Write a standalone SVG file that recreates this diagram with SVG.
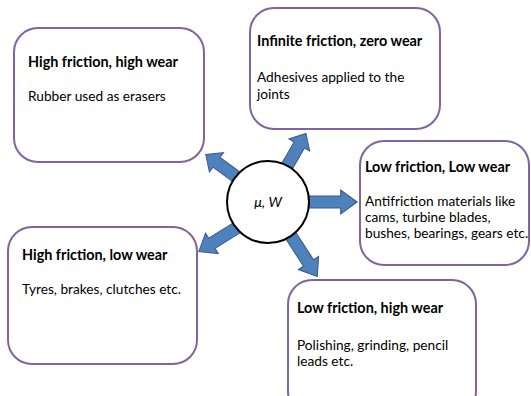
<svg xmlns="http://www.w3.org/2000/svg" width="531" height="396" viewBox="0 0 531 396">
<style>
.box{fill:#fff;stroke:#8064A2;stroke-width:2}
.t{font-family:Lato,"Liberation Sans",sans-serif;font-size:14.4px;font-weight:bold;fill:#000}
.b{font-family:Lato,"Liberation Sans",sans-serif;font-size:13.7px;fill:#000}
.arr{fill:#4F81BD;stroke:#385D8A;stroke-width:1}
</style>
<defs>
<polygon id="ar" points="0,-6 28,-6 28,-12 42,0 28,12 28,6 0,6"/>
</defs>
<rect width="531" height="396" fill="#fff"/>
<g id="n1"><rect class="box" x="14" y="28" width="190" height="134" rx="24"/>
<text class="t" x="28" y="67">High friction, high wear</text>
<text class="b" x="28" y="101">Rubber used as erasers</text></g>
<g id="n2"><rect class="box" x="250" y="8" width="190" height="121" rx="24"/>
<text class="t" x="257" y="46">Infinite friction, zero wear</text>
<text class="b" x="257" y="82">Adhesives applied to the</text>
<text class="b" x="257" y="99">joints</text></g>
<g id="n3"><rect class="box" x="360" y="141" width="169" height="124" rx="24"/>
<text class="t" x="365" y="172">Low friction, Low wear</text>
<text class="b" x="365" y="206">Antifriction materials like</text>
<text class="b" x="365" y="222">cams, turbine blades,</text>
<text class="b" x="365" y="238">bushes, bearings, gears etc.</text></g>
<g id="n4"><rect class="box" x="8" y="227" width="189" height="137" rx="24"/>
<text class="t" x="22" y="260">High friction, low wear</text>
<text class="b" x="22" y="294">Tyres, brakes, clutches etc.</text></g>
<g id="n5"><rect class="box" x="288" y="280" width="188" height="135" rx="24"/>
<text class="t" x="297" y="313">Low friction, high wear</text>
<text class="b" x="297" y="350">Polishing, grinding, pencil</text>
<text class="b" x="297" y="366">leads etc.</text></g>
<g id="connectors">
<use href="#ar" class="arr" transform="translate(238,178) rotate(-144) scale(0.95,1)"/>
<use href="#ar" class="arr" transform="translate(286,168) rotate(-60) scale(0.95,1)"/>
<use href="#ar" class="arr" transform="translate(308,202) rotate(0) scale(1.17,1)"/>
<use href="#ar" class="arr" transform="translate(238,227) rotate(148) scale(1.1,1)"/>
<use href="#ar" class="arr" transform="translate(291,236) rotate(57) scale(1.15,1)"/>
</g>
<g id="center"><circle cx="268" cy="202" r="41" fill="#fff" stroke="#000" stroke-width="2"/>
<text x="268" y="207" text-anchor="middle" font-family="Lato,'Liberation Sans',sans-serif" font-size="14" font-style="italic">μ, W</text></g>
</svg>
